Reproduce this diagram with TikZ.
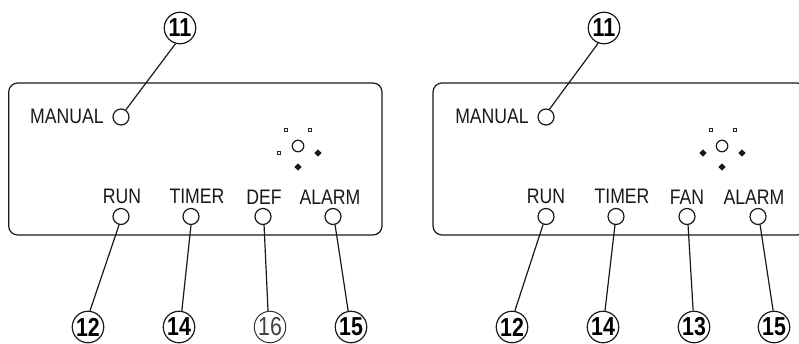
\documentclass[tikz,border=0pt]{standalone}
\usepackage{fontspec}
\setmainfont{Liberation Sans}
\newfontfamily\labfont[FakeStretch=0.84]{Liberation Sans}
\newfontfamily\numfont[FakeStretch=0.82]{Liberation Sans}
\newfontfamily\numthinfont[FakeStretch=0.82]{Liberation Sans}
\usetikzlibrary{shapes.geometric}
\tikzset{
 x=1pt,y=-1pt,
 panel/.style={draw=black!90,line width=1.2pt,rounded corners=9pt},
 led/.style={circle,draw=black!90,line width=1.2pt,fill=white,minimum size=16pt,inner sep=0pt},
 sound/.style={circle,draw=black!90,line width=1.2pt,fill=white,minimum size=11.5pt,inner sep=0pt},
 numc/.style={circle,draw=black!90,line width=1.2pt,fill=white,minimum size=31.5pt,inner sep=0pt,font=\fontsize{26}{26}\numfont\bfseries,text=black},
 numthin/.style={circle,draw=black!80,line width=1pt,fill=white,minimum size=31.5pt,inner sep=0pt,font=\fontsize{26}{26}\numthinfont,text=black!75},
 lab/.style={inner sep=0pt,font=\fontsize{21}{21}\labfont,text=black!90},
 lead/.style={draw=black!90,line width=1.2pt},
 sqo/.style={rectangle,draw=black!85,line width=1.1pt,fill=white,minimum size=3.6pt,inner sep=0pt},
 dotf/.style={diamond,aspect=1,fill=black!90,minimum size=7.5pt,inner sep=0pt},
}
\begin{document}
\begin{tikzpicture}
\useasboundingbox (0,0) rectangle (799,343);
\clip (0,0) rectangle (799,343);
% left panel
\draw[panel] (8.7,83) rectangle (382,235);
\node[led] (m1) at (121,117) {};
\node[led] (r1) at (121,216.5) {};
\node[led] (t1) at (191,216.5) {};
\node[led] (d1) at (263,216.5) {};
\node[led] (a1) at (333,216.5) {};
\node[lab] (lm1) at (67,116) {MANUAL};
\node[lab] (lr1) at (122,196) {RUN};
\node[lab] (lt1) at (197,196) {TIMER};
\node[lab] (ld1) at (264,197) {DEF};
\node[lab] (la1) at (330,197) {ALARM};
\node[sound] (s1) at (298,146) {};
\node[sqo] (q1) at (286,130) {};
\node[sqo] (q2) at (310,130) {};
\node[sqo] (q3) at (279,153) {};
\node[dotf] (q4) at (318,153) {};
\node[dotf] (q5) at (298,167) {};
\node[numc] (n11) at (180,28) {11};
\node[numc] (n12) at (88,327) {12};
\node[numc] (n14) at (179,327) {14};
\node[numthin] (n16) at (270,327) {16};
\node[numc] (n15) at (351,327) {15};
\draw[lead] (n11.-106) -- (m1.56);
\draw[lead] (n12.83) -- (r1.-103);
\draw[lead] (n14.80) -- (t1.-90);
\draw[lead] (n16.97) -- (d1.-83);
\draw[lead] (n15.100) -- (a1.-76);
% right panel
\draw[panel] (433,83) rectangle (806,235);
\node[led] (m2) at (546,117) {};
\node[led] (r2) at (546,216.5) {};
\node[led] (t2) at (616,216.5) {};
\node[led] (f2) at (687,216.5) {};
\node[led] (a2) at (758,216.5) {};
\node[lab] (lm2) at (492,116) {MANUAL};
\node[lab] (lr2) at (546,196) {RUN};
\node[lab] (lt2) at (622,196) {TIMER};
\node[lab] (lf2) at (687,197) {FAN};
\node[lab] (la2) at (754,197) {ALARM};
\node[sound] (s2) at (722,146) {};
\node[sqo] (p1) at (711,130) {};
\node[sqo] (p2) at (735,130) {};
\node[dotf] (p3) at (703,153) {};
\node[dotf] (p4) at (742,153) {};
\node[dotf] (p5) at (722,167) {};
\node[numc] (o11) at (604,28) {11};
\node[numc] (o12) at (512,327) {12};
\node[numc] (o14) at (603,327) {14};
\node[numc] (o13) at (694,327) {13};
\node[numc] (o15) at (774,327) {15};
\draw[lead] (o11.-111) -- (m2.66);
\draw[lead] (o12.80) -- (r2.-110);
\draw[lead] (o14.83) -- (t2.-97);
\draw[lead] (o13.93) -- (f2.-83);
\draw[lead] (o15.93) -- (a2.-76);
\end{tikzpicture}
\end{document}
